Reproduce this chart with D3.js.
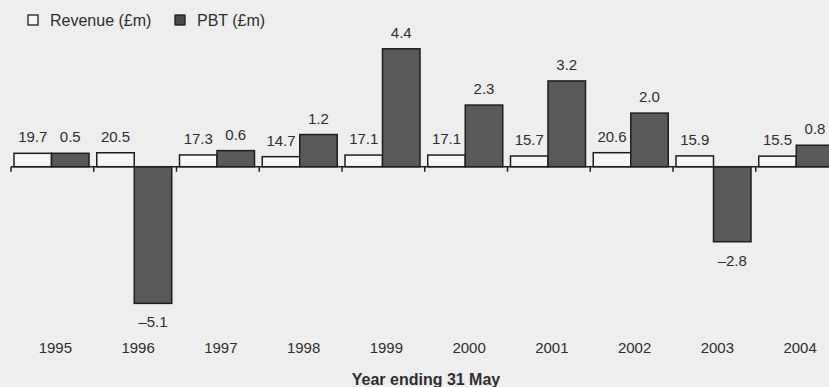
<!DOCTYPE html>
<html>
<head>
<meta charset="utf-8">
<script src="https://cdn.jsdelivr.net/npm/d3@7"></script>
<style>
  html, body { margin: 0; padding: 0; background: #edeeed; }
  svg { display: block; }
  text { font-family: "Liberation Sans", Arial, Helvetica, sans-serif; fill: #2e2e2e; }
</style>
</head>
<body>
<svg id="chart" width="829" height="387"></svg>
<script>
// Financial summary, year ending 31 May
const years = ["1995", "1996", "1997", "1998", "1999", "2000", "2001", "2002", "2003", "2004"];
const revenue = [19.7, 20.5, 17.3, 14.7, 17.1, 17.1, 15.7, 20.6, 15.9, 15.5];
const pbt = [0.5, -5.1, 0.6, 1.2, 4.4, 2.3, 3.2, 2.0, -2.8, 0.8];
const seriesNames = ["Revenue (£m)", "PBT (£m)"];
const axisTitle = "Year ending 31 May";

const W = 829, H = 387;
const baseY = 166.7;
const svg = d3.select("#chart");

// Background
svg.append("rect").attr("width", W).attr("height", H).attr("fill", "#edeeed");

// Year groups
const x = d3.scaleBand().domain(years).range([11, 11 + 82.75 * years.length]).padding(0);
const sub = d3.scaleBand().domain(["rev", "pbt"]).range([3, 78]).padding(0);

// PBT drawn on its own scale; revenue on a compressed scale sharing the same zero line
const yP = d3.scaleLinear().domain([-6, 5]).range([baseY + 6 * 26.8, baseY - 5 * 26.8]);
const yR = d3.scaleLinear().domain([0, 20]).range([baseY, baseY - 13.6]);

const rows = years.map((y, i) => ({ year: y, rev: revenue[i], pbt: pbt[i] }));

const g = svg.append("g");

// Revenue bars
g.selectAll("rect.rev").data(rows).join("rect")
  .attr("class", "rev")
  .attr("x", d => x(d.year) + sub("rev"))
  .attr("width", sub.bandwidth())
  .attr("y", d => yR(d.rev))
  .attr("height", d => yR(0) - yR(d.rev))
  .attr("fill", "#f6f7f6")
  .attr("stroke", "#1e1e1e")
  .attr("stroke-width", 1.5);

// PBT bars
g.selectAll("rect.pbt").data(rows).join("rect")
  .attr("class", "pbt")
  .attr("x", d => x(d.year) + sub("pbt"))
  .attr("width", sub.bandwidth())
  .attr("y", d => Math.min(yP(d.pbt), yP(0)))
  .attr("height", d => Math.abs(yP(d.pbt) - yP(0)))
  .attr("fill", "#595959")
  .attr("stroke", "#1e1e1e")
  .attr("stroke-width", 1.5);

// Baseline and group ticks
svg.append("line")
  .attr("x1", x(years[0])).attr("x2", W)
  .attr("y1", baseY).attr("y2", baseY)
  .attr("stroke", "#1e1e1e").attr("stroke-width", 1.5);
svg.selectAll("line.tick").data(years).join("line")
  .attr("class", "tick")
  .attr("x1", d => x(d)).attr("x2", d => x(d))
  .attr("y1", baseY).attr("y2", baseY + 5)
  .attr("stroke", "#1e1e1e").attr("stroke-width", 1.5);

// Value labels
g.selectAll("text.revlab").data(rows).join("text")
  .attr("class", "revlab")
  .attr("x", d => x(d.year) + sub("rev") + sub.bandwidth() / 2)
  .attr("y", d => yR(d.rev) - 11)
  .attr("text-anchor", "middle")
  .attr("font-size", 15)
  .text(d => d.rev.toFixed(1));

g.selectAll("text.pbtlab").data(rows).join("text")
  .attr("class", "pbtlab")
  .attr("x", d => x(d.year) + sub("pbt") + sub.bandwidth() / 2)
  .attr("y", d => d.pbt >= 0 ? yP(d.pbt) - 11 : yP(d.pbt) + 24)
  .attr("text-anchor", "middle")
  .attr("font-size", 15)
  .text(d => (d.pbt < 0 ? "\u2013" + Math.abs(d.pbt).toFixed(1) : d.pbt.toFixed(1)));

// Year labels
svg.selectAll("text.year").data(years).join("text")
  .attr("class", "year")
  .attr("x", d => x(d) + x.bandwidth() / 2 + 3)
  .attr("y", 353)
  .attr("text-anchor", "middle")
  .attr("font-size", 15)
  .text(d => d);

// Axis title
svg.append("text")
  .attr("x", 426).attr("y", 385)
  .attr("text-anchor", "middle")
  .attr("font-size", 16)
  .attr("font-weight", "bold")
  .attr("fill", "#2a2a2a")
  .text(axisTitle);

// Legend
const legend = svg.append("g");
const legendItems = [
  { name: seriesNames[0], fill: "#f6f7f6", x: 28 },
  { name: seriesNames[1], fill: "#4a4a4a", x: 175 }
];
legendItems.forEach(it => {
  legend.append("rect")
    .attr("x", it.x).attr("y", 15).attr("width", 10).attr("height", 10)
    .attr("fill", it.fill).attr("stroke", "#1e1e1e").attr("stroke-width", 1.3);
  legend.append("text")
    .attr("x", it.x + 22).attr("y", 26)
    .attr("font-size", 16)
    .text(it.name);
});
</script>
</body>
</html>
